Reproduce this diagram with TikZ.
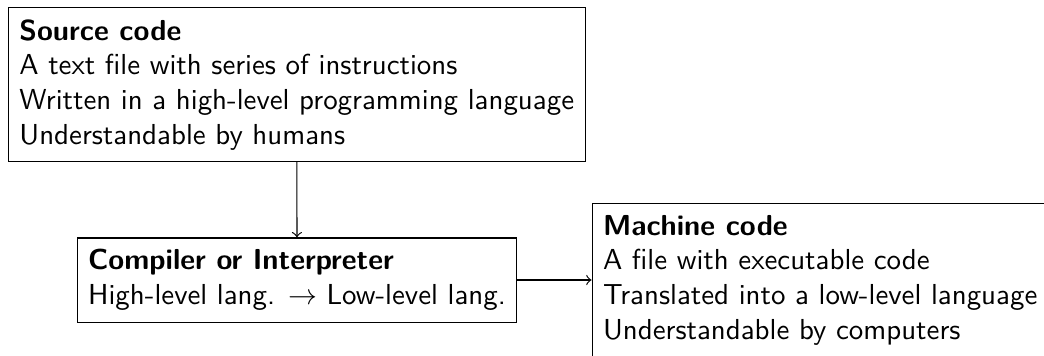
\documentclass[tikz,border=0pt]{standalone}
\begin{document}
\begin{tikzpicture}[x=0.3460pt,y=-0.3460pt,
  box/.style={draw, align=left, font=\sffamily, inner xsep=3.8pt, inner ysep=4pt}]
\useasboundingbox (0,0) rectangle (1044,355);
\node[box] (src) at (296.75,84.75) {\textbf{Source code}\\A text file with series of instructions\\Written in a high-level programming language\\Understandable by humans};
\node[box] (comp) at (297,280) {\textbf{Compiler or Interpreter}\\High-level lang. $\rightarrow$ Low-level lang.};
\node[box, anchor=west] (mach) at (591.5,280) {\textbf{Machine code}\\A file with executable code\\Translated into a low-level language\\Understandable by computers};
\draw[->] (src) -- (comp);
\draw[->] (comp) -- (mach);
\end{tikzpicture}
\end{document}
